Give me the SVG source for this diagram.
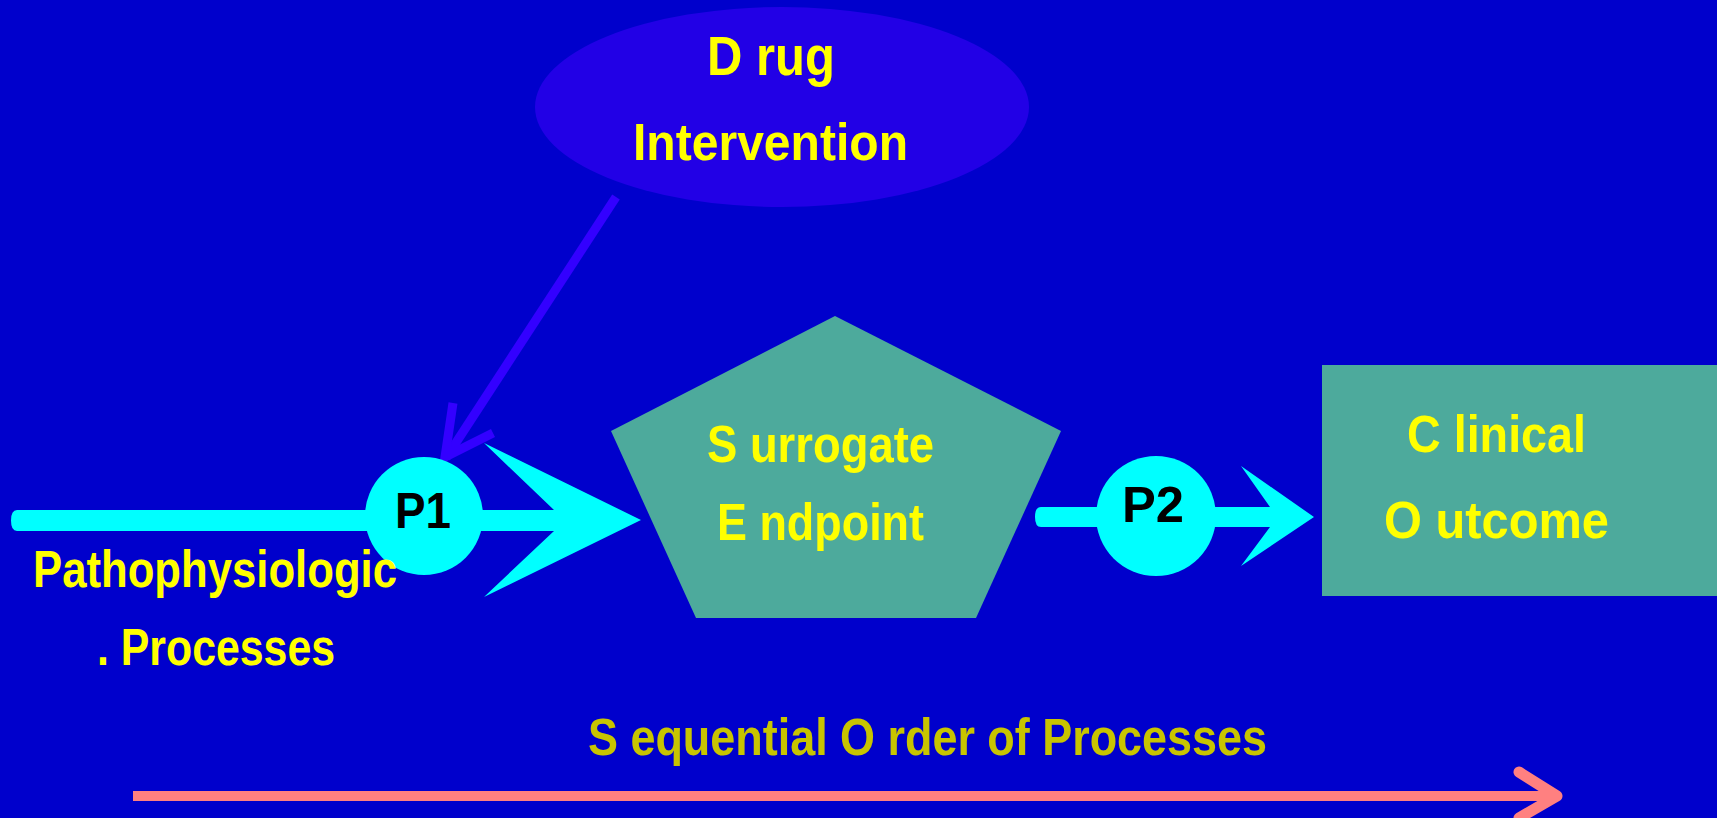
<svg xmlns="http://www.w3.org/2000/svg" width="1717" height="818" viewBox="0 0 1717 818">
<style>
.t{font-family:"Liberation Sans",Arial,sans-serif;font-weight:bold;font-size:52px;fill:#FFFF00}
.k{font-family:"Liberation Sans",Arial,sans-serif;font-weight:bold;font-size:50px;fill:#000000}
.cy{fill:#00FFFF}
.teal{fill:#4DAA9C}
</style>
<rect x="0" y="0" width="1717" height="818" fill="#0000CC"/>
<g id="connectors">
<path d="M616,197 L446,458" stroke="#3300FF" stroke-width="9" fill="none"/>
<path d="M453,403 L445,457 L493,433" stroke="#3300FF" stroke-width="9" fill="none"/>
<path class="cy" d="M17,510 L554,510 L484,443 L641,520 L484,597 L554,531 L17,531 Q11,531 11,520.5 Q11,510 17,510 Z"/>
<path class="cy" d="M1041,507 L1270,507 L1241,466 L1314,517 L1241,566 L1270,527 L1041,527 Q1035,527 1035,517 Q1035,507 1041,507 Z"/>
<path d="M133,796 L1555,796" stroke="#FF8080" stroke-width="10" fill="none"/>
<path d="M1519,772 L1557,796 L1519,818" stroke="#FF8080" stroke-width="11" stroke-linejoin="round" stroke-linecap="round" fill="none"/>
</g>
<g id="drug">
<ellipse cx="782" cy="107" rx="247" ry="100" fill="#2200E6"/>
<text class="t" style="font-size:56px" x="707" y="75" textLength="128" lengthAdjust="spacingAndGlyphs">D rug</text>
<text class="t" x="633" y="160" textLength="275" lengthAdjust="spacingAndGlyphs">Intervention</text>
</g>
<g id="p1">
<circle class="cy" cx="424" cy="516" r="59"/>
<text class="k" x="395" y="528" textLength="56" lengthAdjust="spacingAndGlyphs">P1</text>
</g>
<g id="patho">
<text class="t" x="33" y="587" textLength="364" lengthAdjust="spacingAndGlyphs">Pathophysiologic</text>
<text class="t" x="97" y="665" textLength="238" lengthAdjust="spacingAndGlyphs">. Processes</text>
</g>
<g id="surrogate">
<polygon class="teal" points="835,316 1061,431 976,618 696,618 611,431"/>
<text class="t" x="707" y="462" textLength="227" lengthAdjust="spacingAndGlyphs">S urrogate</text>
<text class="t" x="717" y="540" textLength="207" lengthAdjust="spacingAndGlyphs">E ndpoint</text>
</g>
<g id="p2">
<circle class="cy" cx="1156" cy="516" r="60"/>
<text class="k" x="1122" y="522" textLength="62" lengthAdjust="spacingAndGlyphs">P2</text>
</g>
<g id="clinical">
<rect class="teal" x="1322" y="365" width="395" height="231"/>
<text class="t" x="1407" y="452" textLength="179" lengthAdjust="spacingAndGlyphs">C linical</text>
<text class="t" x="1384" y="538" textLength="225" lengthAdjust="spacingAndGlyphs">O utcome</text>
</g>
<g id="sequence">
<text class="t" style="fill:#C8C400" x="588" y="755" textLength="679" lengthAdjust="spacingAndGlyphs">S equential O rder of Processes</text>
</g>
</svg>
